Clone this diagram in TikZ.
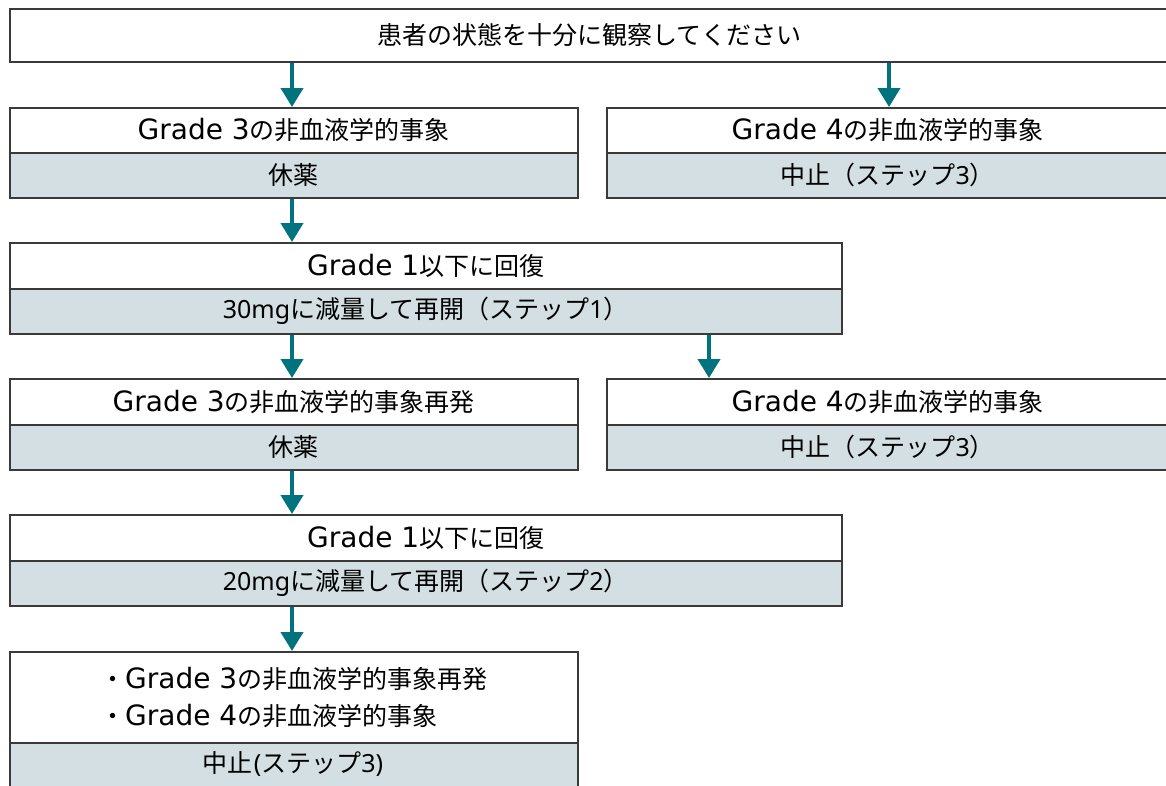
\documentclass[tikz,border=0pt]{standalone}
\usepackage{fontspec}
\setmainfont{Noto Sans CJK JP}
\newfontfamily\lat{Noto Sans}
\newfontfamily\gfont{DejaVu Sans}
\usetikzlibrary{arrows.meta}
\definecolor{teal1}{HTML}{00737F}
\definecolor{grayfill}{HTML}{D3DFE2}
\definecolor{bord}{HTML}{3A3A3A}
\tikzset{
  box/.style={draw=bord, line width=1.5pt, anchor=north west, inner sep=0pt, font=\fontsize{25}{31}\selectfont},
  wbox/.style={box, fill=white},
  gbox/.style={box, fill=grayfill},
  arr/.style={draw=teal1, line width=4pt, -{Triangle[width=22pt,length=19pt]}},
}
\newcommand{\lt}[1]{{\lat #1}}
\newcommand{\gr}[1]{{\gfont\fontsize{28}{31}\selectfont Grade #1}}
\begin{document}
\begin{tikzpicture}[x=1pt,y=-1pt]
\useasboundingbox (0,0) rectangle (1166,785);
\clip (0,0) rectangle (1166,785);
\fill[white] (0,0) rectangle (1166,785);
% top
\node[wbox, minimum width=1159pt, minimum height=53pt] (top) at (9,8) {患者の状態を十分に観察してください};
% row 1
\node[wbox, minimum width=568pt, minimum height=45pt] (r1Lw) at (9,107) {\gr{3}の非血液学的事象};
\node[gbox, minimum width=568pt, minimum height=45pt] (r1Lg) at (9,152) {休薬};
\node[wbox, minimum width=562pt, minimum height=45pt] (r1Rw) at (606,107) {\gr{4}の非血液学的事象};
\node[gbox, minimum width=562pt, minimum height=45pt] (r1Rg) at (606,152) {中止（ステップ\lt{3}）};
% row 2
\node[wbox, minimum width=832pt, minimum height=46pt] (r2w) at (9,242) {\gr{1}以下に回復};
\node[gbox, minimum width=832pt, minimum height=45pt] (r2g) at (9,288) {\lt{30mg}に減量して再開（ステップ\lt{1}）};
% row 3
\node[wbox, minimum width=568pt, minimum height=46pt] (r3Lw) at (9,378) {\gr{3}の非血液学的事象再発};
\node[gbox, minimum width=568pt, minimum height=45pt] (r3Lg) at (9,424) {休薬};
\node[wbox, minimum width=562pt, minimum height=46pt] (r3Rw) at (606,378) {\gr{4}の非血液学的事象};
\node[gbox, minimum width=562pt, minimum height=45pt] (r3Rg) at (606,424) {中止（ステップ\lt{3}）};
% row 4
\node[wbox, minimum width=832pt, minimum height=46pt] (r4w) at (9,514) {\gr{1}以下に回復};
\node[gbox, minimum width=832pt, minimum height=45pt] (r4g) at (9,560) {\lt{20mg}に減量して再開（ステップ\lt{2}）};
% row 5
\node[wbox, minimum width=568pt, minimum height=91pt, align=left, font=\fontsize{25}{37}\selectfont] (r5w) at (9,651) {・\gr{3}の非血液学的事象再発\\・\gr{4}の非血液学的事象};
\node[gbox, minimum width=568pt, minimum height=48pt] (r5g) at (9,742) {};
\node[font=\fontsize{25}{31}\selectfont, inner sep=0pt] (r5t) at (293,764) {中止\lt{\kern1pt(}ステップ\lt{3)}};
% arrows
\coordinate (cL) at (292,0);
\coordinate (cR) at (889,0);
\coordinate (cM) at (709,0);
\draw[arr] (top.south -| cL) -- (r1Lw.north -| cL);
\draw[arr] (top.south -| cR) -- (r1Rw.north -| cR);
\draw[arr] (r1Lg.south -| cL) -- (r2w.north -| cL);
\draw[arr] (r2g.south -| cL) -- (r3Lw.north -| cL);
\draw[arr] (r2g.south -| cM) -- (r3Rw.north -| cM);
\draw[arr] (r3Lg.south -| cL) -- (r4w.north -| cL);
\draw[arr] (r4g.south -| cL) -- (r5w.north -| cL);
\end{tikzpicture}
\end{document}
